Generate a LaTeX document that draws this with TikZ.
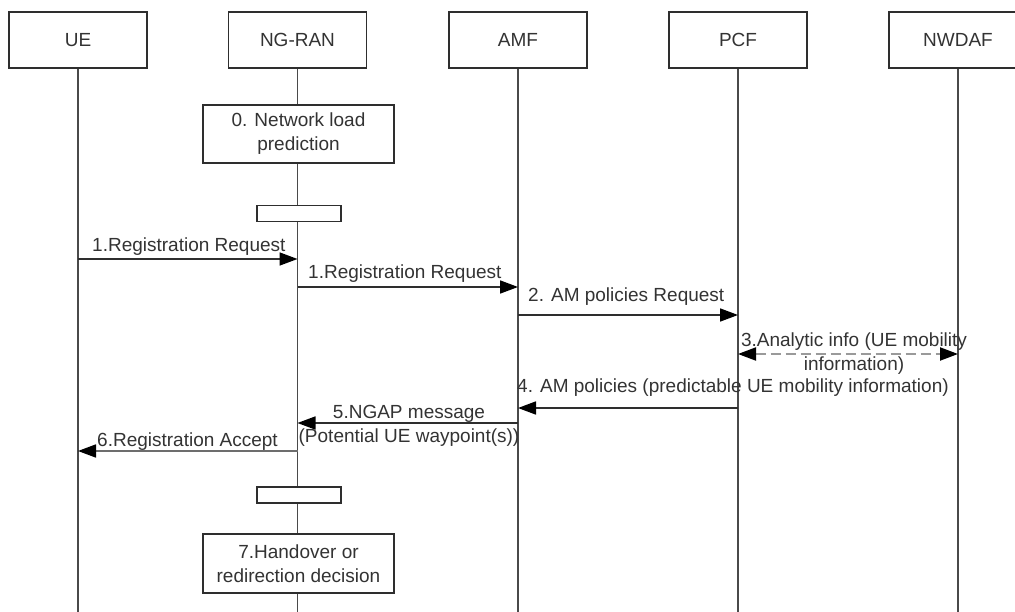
\documentclass[tikz,border=0pt]{standalone}
\usepackage{fontspec}
\setmainfont{Liberation Sans}
\usetikzlibrary{arrows.meta}
\definecolor{ink}{HTML}{2E2E2E}
\definecolor{lifeink}{HTML}{4A4A4A}
\definecolor{txt}{HTML}{333333}
\definecolor{dashgray}{HTML}{9A9A9A}

\begin{document}
\begin{tikzpicture}[x=1pt,y=-1pt,
  every node/.style={font=\fontsize{19}{24}\selectfont, text=txt},
  entity/.style={draw=ink, line width=1.4pt, fill=white, minimum width=138pt, minimum height=56pt, inner sep=0pt},
  procbox/.style={draw=ink, line width=1.4pt, fill=white, minimum width=191pt, minimum height=58pt, align=center, inner sep=0pt},
  waitbar/.style={draw=ink, line width=1.4pt, fill=white, minimum width=84pt, minimum height=16pt, inner sep=0pt},
  life/.style={draw=lifeink, line width=1.2pt},
  msg/.style={draw=ink, line width=1.6pt, -{Triangle[length=18pt,width=13pt,color=black]}},
  dmsg/.style={draw=dashgray, line width=2pt, dash pattern=on 10pt off 5pt,
    {Triangle[length=18pt,width=13pt,color=black]}-{Triangle[length=18pt,width=13pt,color=black]}},
  lbl/.style={anchor=base west, inner sep=0pt},
  clbl/.style={anchor=center, align=center, inner sep=0pt},
]
\useasboundingbox (0,0) rectangle (1015,612);
\clip (0,0) rectangle (1015,612);

% lifeline heads
\node[entity] (ue)    at (78,40)  {UE};
\node[entity] (ran)   at (297.5,40) {NG-RAN};
\node[entity] (amf)   at (518,40) {AMF};
\node[entity] (pcf)   at (738,40) {PCF};
\node[entity] (nwdaf) at (958,40) {NWDAF};

% lifeline ends
\coordinate (ueEnd)    at (78,612);
\coordinate (ranEnd)   at (297.5,612);
\coordinate (amfEnd)   at (518,612);
\coordinate (pcfEnd)   at (738,612);
\coordinate (nwdafEnd) at (958,612);

\draw[life] (ue.south) -- (ueEnd);
\draw[life] (ran.south) -- (ranEnd);
\draw[life] (amf.south) -- (amfEnd);
\draw[life] (pcf.south) -- (pcfEnd);
\draw[life] (nwdaf.south) -- (nwdafEnd);

% local processing on NG-RAN
\node[procbox] (load) at (298.5,134) {0. Network load\\prediction};
\node[waitbar] (bar1) at (299,213.5) {};
\node[waitbar] (bar2) at (299,495) {};
\node[procbox, minimum height=59pt] (ho) at (298.5,563.5) {7.Handover or\\redirection decision};

% message end points on the lifelines
\coordinate (m1s) at (78,259);    \coordinate (m1e) at (297.5,259);
\coordinate (m1bs) at (297.5,287); \coordinate (m1be) at (518,287);
\coordinate (m2s) at (518,315);   \coordinate (m2e) at (738,315);
\coordinate (m3s) at (738,354);   \coordinate (m3e) at (958,354);
\coordinate (m4s) at (738,408);   \coordinate (m4e) at (518,408);
\coordinate (m5s) at (518,423);   \coordinate (m5e) at (297.5,423);
\coordinate (m6s) at (297.5,451); \coordinate (m6e) at (78,451);

% messages
\draw[msg] (m1s) -- (m1e);
\node[lbl] (l1) at (92,252) {1.Registration Request};

\draw[msg] (m1bs) -- (m1be);
\node[lbl] (l1b) at (308,279) {1.Registration Request};

\draw[msg] (m2s) -- (m2e);
\node[lbl] (l2) at (528,302) {2. AM policies Request};

\draw[dmsg] (m3s) -- (m3e);
\node[clbl] (l3) at (854,354) {3.Analytic info (UE mobility\\information)};

\draw[msg] (m4s) -- (m4e);
\node[lbl] (l4) at (517,392) {4. AM policies (predictable UE mobility information)};

\draw[msg] (m5s) -- (m5e);
\node[clbl] (l5) at (409,425.5) {5.NGAP message\\(Potential UE waypoint(s))};

\draw[msg, draw=ink!70] (m6s) -- (m6e);
\node[lbl] (l6) at (97,446) {6.Registration Accept};
\end{tikzpicture}
\end{document}
